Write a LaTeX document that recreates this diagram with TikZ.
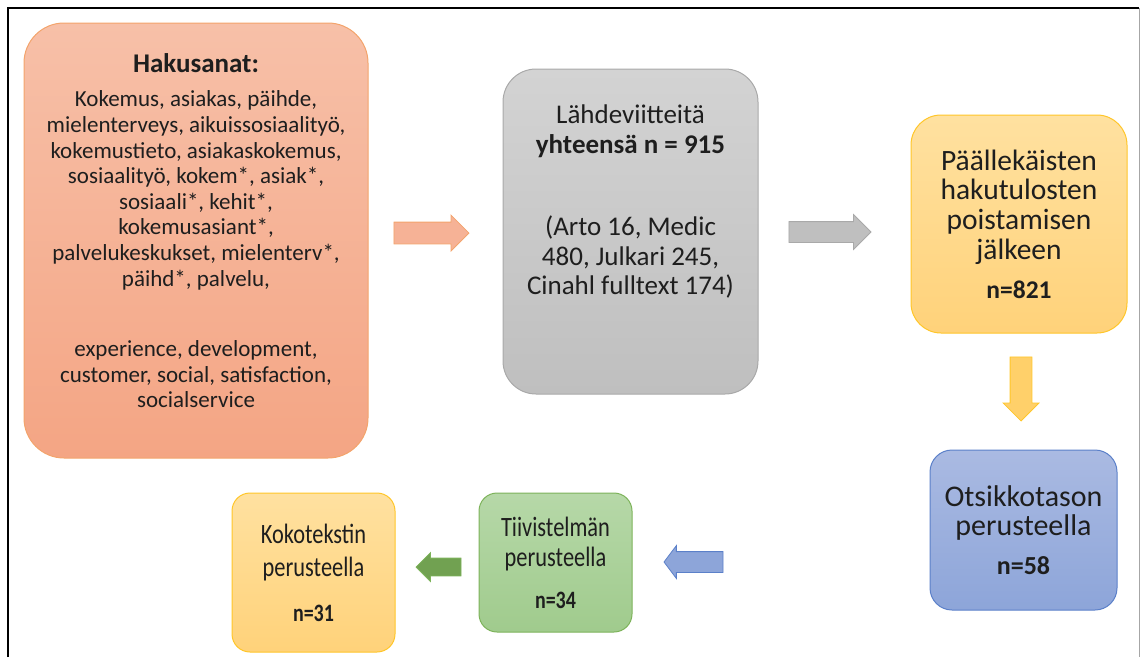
\documentclass[tikz,border=0pt]{standalone}
\usepackage{fontspec}
\setmainfont{Carlito}
\newfontfamily\narrowCarlito[FakeStretch=0.8]{Carlito}
\usetikzlibrary{shapes.arrows,calc}

\definecolor{salmonTop}{HTML}{F7C0A8}
\definecolor{salmonBot}{HTML}{F4A584}
\definecolor{salmonEdge}{HTML}{F3A46C}
\definecolor{greyTop}{HTML}{D3D3D3}
\definecolor{greyBot}{HTML}{BFBFBF}
\definecolor{greyEdge}{HTML}{A9A9A9}
\definecolor{goldTop}{HTML}{FFE1A0}
\definecolor{goldBot}{HTML}{FFD27A}
\definecolor{goldEdge}{HTML}{FFC629}
\definecolor{blueTop}{HTML}{AABAE2}
\definecolor{blueBot}{HTML}{8DA5D9}
\definecolor{blueEdge}{HTML}{5B80C9}
\definecolor{greenTop}{HTML}{B6D8A8}
\definecolor{greenBot}{HTML}{A0CB8D}
\definecolor{greenEdge}{HTML}{7DB35A}
\definecolor{inkText}{HTML}{1E1E1E}

\begin{document}
\begin{tikzpicture}
[x=1pt,y=-1pt,%
  every node/.style={inner sep=0pt,text=inkText,align=center},%
  stepBox/.style={draw,line width=1pt,minimum width=#1},%
  salmonBox/.style={stepBox=344pt,rounded corners=40pt,draw=salmonEdge,
    top color=salmonTop,bottom color=salmonBot,minimum height=435pt},
  greyBox/.style={stepBox=255pt,rounded corners=33pt,draw=greyEdge,
    top color=greyTop,bottom color=greyBot,minimum height=325pt},
  goldBox/.style={rounded corners=30pt,draw=goldEdge,line width=1pt,
    top color=goldTop,bottom color=goldBot},
  blueBox/.style={stepBox=187pt,rounded corners=22pt,draw=blueEdge,
    top color=blueTop,bottom color=blueBot,minimum height=160pt},
  greenBox/.style={stepBox=153pt,rounded corners=18pt,draw=greenEdge,
    top color=greenTop,bottom color=greenBot,minimum height=139pt},
  blockArrow/.style={single arrow,draw,line width=0.8pt,inner xsep=0pt,
    single arrow head indent=0pt,anchor=tip}]
% frame
\useasboundingbox (0,0) rectangle (1141,657);
\draw[line width=2pt] (8,657) -- (8,8) -- (1139,8);
\draw[line width=0.8pt,gray!70] (1139,8) -- (1139,657);

% boxes
\node[salmonBox,font=\fontsize{23}{25.6}\selectfont] (hak) at (196,240.5)
  {{\fontsize{27}{25}\selectfont\bfseries Hakusanat:}\\[9pt]
   Kokemus, asiakas, päihde,\\
   mielenterveys, aikuissosiaalityö,\\
   kokemustieto, asiakaskokemus,\\
   sosiaalityö, kokem*, asiak*,\\
   sosiaali*, kehit*,\\
   kokemusasiant*,\\
   palvelukeskukset, mielenterv*,\\
   päihd*, palvelu,\\[45pt]
   experience, development,\\
   customer, social, satisfaction,\\
   socialservice\\[-6pt]\mbox{}};
\node[greyBox,font=\fontsize{27}{29.5}\selectfont] (tot) at (630.5,231.5)
  {Lähdeviitteitä\\
   \textbf{yhteensä n = 915}\\[53pt]
   (Arto 16, Medic\\
   480, Julkari 245,\\
   Cinahl fulltext 174)\\[34pt]\mbox{}};
\node[goldBox,minimum width=216pt,minimum height=218pt,
  font=\fontsize{29.5}{29.7}\selectfont] (dup) at (1019,224)
  {Päällekäisten\\ hakutulosten\\ poistamisen\\ jälkeen\\[9pt]
   \textbf{\fontsize{25.5}{25}\selectfont n=821}};
\node[blueBox,font=\fontsize{30}{29}\selectfont] (tit) at (1023.5,530)
  {Otsikkotason\\ perusteella\\[10pt]
   \textbf{\fontsize{26}{25}\selectfont n=58}};
\node[greenBox,font=\narrowCarlito\fontsize{28}{30}\selectfont] (abs) at (555.5,562.5)
  {Tiivistelmän\\ perusteella\\[12pt]
   \textbf{\fontsize{25}{25}\selectfont n=34}};
\node[goldBox,minimum width=163pt,minimum height=159pt,rounded corners=18pt,
  font=\narrowCarlito\fontsize{28}{33}\selectfont] (ful) at (313.5,572.5)
  {Kokotekstin\\ perusteella\\[12pt]
   \textbf{\fontsize{25}{25}\selectfont n=31}};

% arrows between the boxes
\node[blockArrow,draw=salmonEdge,fill=salmonBot!85!white,minimum height=75pt,
  inner ysep=10.5pt,single arrow head extend=7pt] (a1)
  at ([xshift=-33pt,yshift=-1.5pt]tot.west) {};
\node[blockArrow,draw=greyEdge,fill=greyBot,minimum height=82pt,
  inner ysep=10pt,single arrow head extend=7pt] (a2)
  at ([xshift=-39pt,yshift=-8pt]dup.west) {};
\node[blockArrow,draw=goldEdge,fill=goldBot!80!goldEdge,minimum height=64pt,
  inner ysep=10.5pt,single arrow head extend=7pt,rotate=-90] (a3)
  at ([xshift=-2.5pt,yshift=28pt]tit.north) {};
\node[blockArrow,draw=blueEdge,fill=blueBot,minimum height=59pt,
  inner ysep=10pt,single arrow head extend=6pt,single arrow tip angle=106,
  rotate=180] (a4)
  at ([xshift=31pt,yshift=0.5pt]abs.east) {};
\node[blockArrow,draw=greenEdge,fill=greenEdge!90!black,minimum height=45pt,
  inner ysep=8.5pt,single arrow head extend=5.5pt,rotate=180] (a5)
  at ([xshift=20pt,yshift=5.5pt]ful.east) {};
\end{tikzpicture}
\end{document}
